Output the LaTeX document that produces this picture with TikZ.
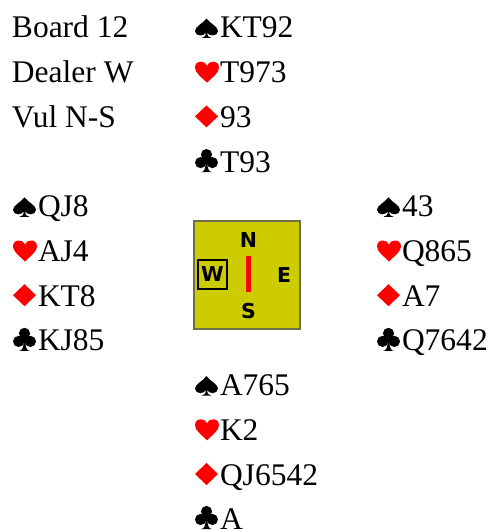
\documentclass[tikz,border=0pt]{standalone}
\usepackage{fontspec}
\setmainfont{Liberation Serif}
\newfontfamily\compfont{DejaVu Sans}
\definecolor{suitred}{RGB}{255,0,0}
\definecolor{compfill}{RGB}{204,204,0}
\definecolor{compedge}{RGB}{112,112,72}
\begin{document}
\begin{tikzpicture}[x=1pt,y=-1pt,
  hand/.style={anchor=base west,inner sep=0pt,outer sep=0pt,font=\fontsize{31.5}{36}\selectfont},
  completter/.style={inner sep=0pt,font=\compfont\bfseries\fontsize{20.5}{22}\selectfont},
  compbox/.style={draw=compedge,line width=1.5pt,fill=compfill,minimum width=106pt,minimum height=108pt,inner sep=0pt,anchor=north west},
  spadepic/.pic={\fill[black] (11.5,-19.5) .. controls (8,-14.5) and (0,-11.5) .. (0,-7)
      .. controls (0,-4) and (2.5,-2.5) .. (5.5,-2.5) .. controls (8,-2.5) and (10,-4) .. (10.8,-5.5)
      .. controls (10.8,-2) and (9,0) .. (6.5,0) -- (16.5,0) .. controls (14,0) and (12.2,-2) .. (12.2,-5.5)
      .. controls (13,-4) and (15,-2.5) .. (17.5,-2.5) .. controls (20.5,-2.5) and (23,-4) .. (23,-7)
      .. controls (23,-11.5) and (15,-14.5) .. (11.5,-19.5) -- cycle;},
  heartpic/.pic={\fill[suitred] (12,0) .. controls (6,-6) and (0,-10) .. (0,-15)
      .. controls (0,-19) and (2.5,-21) .. (6,-21) .. controls (9,-21) and (11,-19.5) .. (12,-17)
      .. controls (13,-19.5) and (15,-21) .. (18,-21) .. controls (21.5,-21) and (24,-19) .. (24,-15)
      .. controls (24,-10) and (18,-6) .. (12,0) -- cycle;},
  diamondpic/.pic={\fill[suitred] (11.5,0) -- (23,-11) -- (11.5,-22) -- (0,-11) -- cycle;},
  clubpic/.pic={\fill[black] (11.5,-17.5) circle[radius=5.6] (5.6,-9.5) circle[radius=5.6]
      (17.4,-9.5) circle[radius=5.6] (11.5,-11.5) circle[radius=3.5];
    \fill[black] (10.6,-10) .. controls (10.6,-3) and (9,0) .. (6,0) -- (17,0)
      .. controls (14,0) and (12.4,-3) .. (12.4,-10) -- cycle;}]
\useasboundingbox (0,0) rectangle (493,532);
% info
\node[hand] (info1) at (12,38) {Board 12};
\node[hand] (info2) at (12,82.7) {Dealer W};
\node[hand] (info3) at (12,127.4) {Vul N-S};
% north
\pic (nsp) at (195,38) {spadepic};     \node[hand] (ns) at (220,38) {KT92};
\pic (nhe) at (195,82.7) {heartpic};   \node[hand] (nh) at (220,82.7) {T973};
\pic (ndi) at (195,127.4) {diamondpic};\node[hand] (nd) at (220,127.4) {93};
\pic (ncl) at (195,172.1) {clubpic};   \node[hand] (nc) at (220,172.1) {T93};
% west
\pic (wsp) at (13,216.8) {spadepic};   \node[hand] (ws) at (38,216.8) {QJ8};
\pic (whe) at (13,261.5) {heartpic};   \node[hand] (wh) at (38,261.5) {AJ4};
\pic (wdi) at (13,306.2) {diamondpic}; \node[hand] (wd) at (38,306.2) {KT8};
\pic (wcl) at (13,350.9) {clubpic};    \node[hand] (wc) at (38,350.9) {KJ85};
% east
\pic (esp) at (377,216.8) {spadepic};  \node[hand] (es) at (402,216.8) {43};
\pic (ehe) at (377,261.5) {heartpic};  \node[hand] (eh) at (402,261.5) {Q865};
\pic (edi) at (377,306.2) {diamondpic};\node[hand] (ed) at (402,306.2) {A7};
\pic (ecl) at (377,350.9) {clubpic};   \node[hand] (ec) at (402,350.9) {Q7642};
% south
\pic (ssp) at (195,395.6) {spadepic};  \node[hand] (ss) at (220,395.6) {A765};
\pic (she) at (195,440.3) {heartpic};  \node[hand] (sh) at (220,440.3) {K2};
\pic (sdi) at (195,485) {diamondpic};  \node[hand] (sd) at (220,485) {QJ6542};
\pic (scl) at (195,529) {clubpic};     \node[hand] (sc) at (220,529) {A};
% compass
\node[compbox] (compass) at (193,220) {};
\node[fill=red,minimum width=5pt,minimum height=36pt,inner sep=0pt] (bar) at (248.5,274) {};
\node[completter] (cn) at (248.5,240) {N};
\node[completter] (cs) at (248.5,311) {S};
\node[completter] (ce) at (284,275.5) {E};
\node[completter,draw=black,line width=2pt,minimum size=29pt] (cw) at (212.5,274.5) {W};
\end{tikzpicture}
\end{document}
